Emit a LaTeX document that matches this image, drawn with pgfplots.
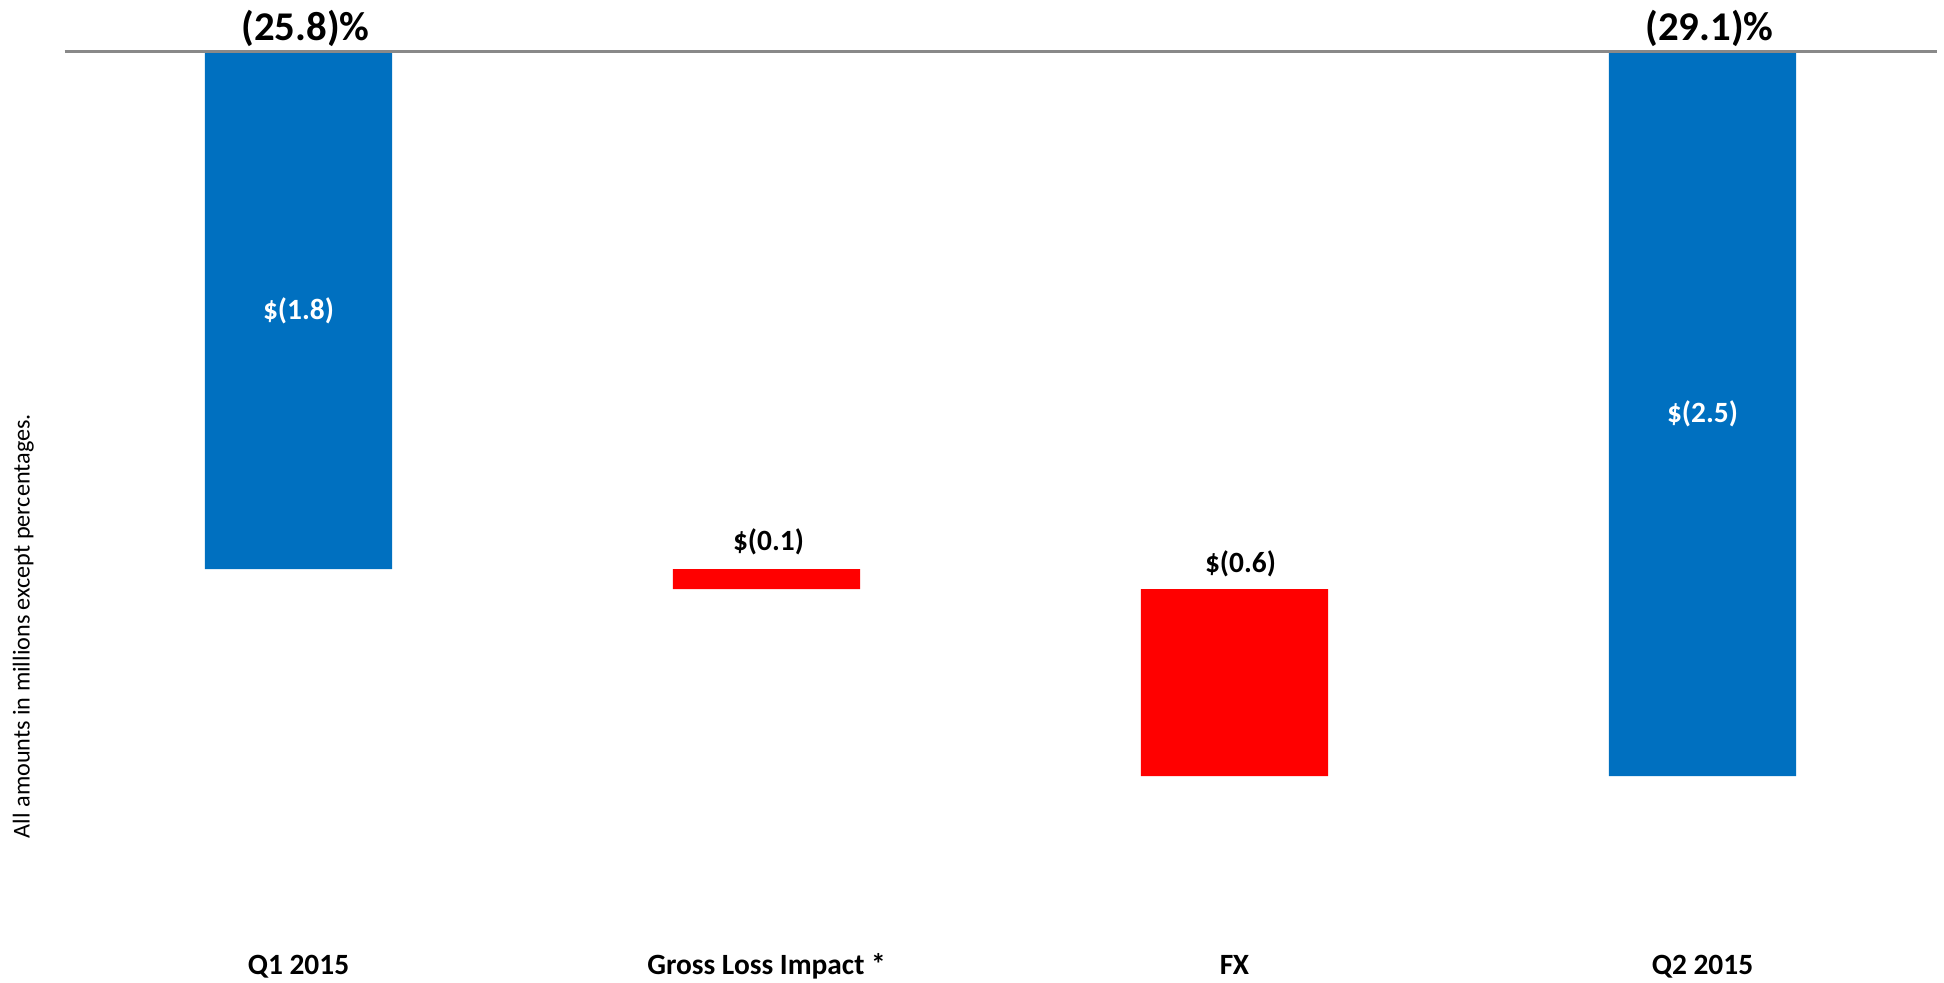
\documentclass[border=0pt]{standalone}
\usepackage{pgfplots}
\pgfplotsset{compat=1.18}
\usepackage{fontspec}
\setmainfont{Carlito}
\definecolor{barblue}{HTML}{0070C0}
\definecolor{barred}{HTML}{FF0000}
\definecolor{linegray}{HTML}{898989}
\begin{document}
\begin{tikzpicture}
\begin{axis}[
  width=936pt, height=446.5pt, scale only axis,
  xmin=-0.5, xmax=3.5, ymin=-3.108, ymax=0,
  ybar stacked, bar width=0.4,
  axis line style={draw=none},
  tick style={draw=none},
  major tick length=0pt,
  ytick=\empty,
  xtick={0,1,2,3},
  xticklabels={Q1 2015, Gross Loss Impact *, FX, Q2 2015},
  xticklabel style={anchor=base, yshift=-14.5pt, font=\bfseries\fontsize{14.7}{17}\selectfont},
  clip=false,
]
% invisible base
\addplot[draw=none, fill=none, forget plot] coordinates {(0,0) (1,-1.8) (2,-1.869) (3,0)};
% blue totals
\addplot[draw=none, fill=barblue, forget plot] coordinates {(0,-1.8) (1,0) (2,0) (3,-2.52)};
% red changes
\addplot[draw=none, fill=barred, forget plot] coordinates {(0,0) (1,-0.069) (2,-0.651) (3,0)};
\coordinate (TL) at (axis cs:-0.5,0);
\coordinate (TR) at (axis cs:3.5,0);
\coordinate (L1) at (axis cs:0,-0.9);
\coordinate (L2) at (axis cs:3,-1.26);
\node[anchor=base, inner sep=0pt, xshift=3.5pt, yshift=5.6pt, font=\bfseries\fontsize{20.4}{24}\selectfont] at (axis cs:0,0) {(25.8)\%};
\node[anchor=base, inner sep=0pt, xshift=3.5pt, yshift=5.6pt, font=\bfseries\fontsize{20.4}{24}\selectfont] at (axis cs:3,0) {(29.1)\%};
\node[anchor=base, inner sep=0pt, xshift=1pt, yshift=9.5pt, font=\bfseries\fontsize{14.7}{17}\selectfont] at (axis cs:1,-1.8) {\$(0.1)};
\node[anchor=base, inner sep=0pt, xshift=3pt, yshift=8.5pt, font=\bfseries\fontsize{14.7}{17}\selectfont] at (axis cs:2,-1.869) {\$(0.6)};
\node[rotate=90, font=\fontsize{12.1}{14}\selectfont] at (axis cs:-0.588,-1.998) {All amounts in millions except percentages.};
\end{axis}
\draw[linegray, line width=1.5pt] (TL) -- (TR);
\node[text=white, font=\bfseries\fontsize{14.7}{17}\selectfont] at (L1) {\$(1.8)};
\node[text=white, font=\bfseries\fontsize{14.7}{17}\selectfont] at (L2) {\$(2.5)};
\pgfresetboundingbox
\path[use as bounding box] (TL) ++(-32.25pt,26pt) rectangle ++(972pt,-491pt);
\end{tikzpicture}
\end{document}
